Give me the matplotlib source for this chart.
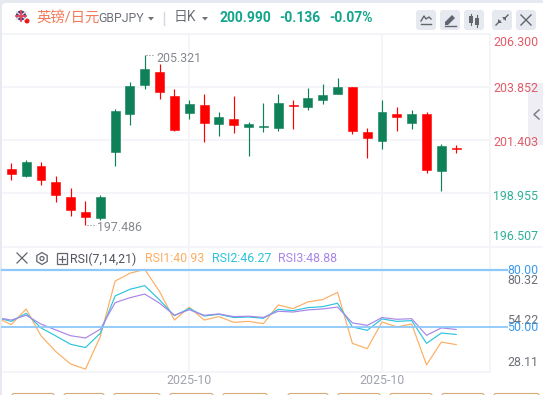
#
# GBPJPY daily candles with an RSI(7,14,21) panel, platform style chart
#

import matplotlib
matplotlib.use('Agg')
import matplotlib.pyplot as plt
from matplotlib.patches import FancyBboxPatch, Circle, Rectangle, Polygon, RegularPolygon

W, H = 543, 395

plt.rcParams['font.family'] = ['Roboto', 'Noto Sans CJK SC', 'DejaVu Sans']

opens = [200.08, 199.76, 200.22, 199.48, 198.79, 198.09, 197.82, 200.86, 202.62, 203.96, 204.56,
	203.45, 202.66, 203.03, 202.16, 202.39, 202.02, 202.02, 201.97, 203.05, 202.94, 203.27,
	203.54, 203.87, 201.79, 201.37, 202.62, 202.20, 202.62, 199.99, 201.03]
highs = [200.36, 200.49, 200.40, 199.76, 199.20, 198.60, 198.88, 202.85, 204.10, 205.321, 204.93,
	203.77, 203.27, 203.54, 202.71, 203.45, 202.25, 203.13, 203.54, 203.27, 203.82, 204.00,
	204.28, 203.87, 201.97, 203.27, 202.94, 202.80, 202.71, 201.23, 201.19]
lows = [199.57, 199.70, 199.34, 198.55, 197.91, 197.486, 197.72, 200.22, 202.11, 203.77, 203.31,
	201.83, 202.39, 201.33, 201.60, 201.74, 200.68, 201.79, 201.83, 201.93, 202.80, 203.08,
	203.54, 201.70, 200.59, 201.00, 201.83, 201.93, 199.89, 199.06, 200.82]
closes = [199.85, 200.40, 199.57, 198.88, 198.19, 197.86, 198.79, 202.76, 203.91, 204.70, 203.63,
	201.88, 203.08, 202.20, 202.48, 202.11, 202.16, 202.06, 203.13, 203.01, 203.36, 203.50,
	203.87, 201.83, 201.51, 202.71, 202.48, 202.62, 200.03, 201.14, 200.99]

# first RSI value belongs to the candle just left of the visible window
rsi1 = [55.1, 51.4, 59.6, 45.6, 37.3, 30.8, 28.11, 45.1, 74.2, 78.3, 80.32, 68.7, 53.8, 60.5, 53.8, 55.6,
	52.6, 53.1, 51.9, 61.7, 59.8, 63.3, 64.5, 68.3, 41.6, 38.8, 52.8, 50.2, 51.7, 30.3, 42.3, 40.93]
rsi2 = [55.1, 53.1, 57.3, 49.7, 45.5, 41.1, 39.4, 46.9, 66.4, 69.9, 71.8, 64.3, 56.1, 59.9, 55.9, 56.8,
	55.1, 55.4, 54.7, 59.4, 58.7, 60.3, 60.8, 62.6, 50.2, 48.4, 54.4, 53.1, 53.5, 41.6, 47.0, 46.27]
rsi3 = [55.1, 53.8, 56.3, 51.7, 48.6, 45.6, 44.4, 49.0, 62.9, 65.5, 67.4, 62.6, 56.3, 59.2, 56.3, 57.0,
	55.6, 55.8, 55.2, 58.4, 58.0, 59.1, 59.6, 60.6, 52.3, 51.0, 55.1, 54.2, 54.5, 45.8, 49.7, 48.88]

price_ticks = [203.852, 201.403, 198.955]
price_labels = ["206.300", "203.852", "201.403", "198.955", "196.507"]
rsi_labels = ["80.32", "54.22", "28.11"]
date_ticks = [12, 25]
date_labels = ["2025-10", "2025-10"]

RED = "#ff0000"
GREEN = "#0f8158"
TEAL = "#12a58c"
GRID = "#f3f4f8"
GREY = "#85888f"
ORANGE = "#fcae64"
CYAN = "#2cc4dc"
PURPLE = "#a886e8"
BLUE = "#8cc8f8"
BTN = "#e7e9f0"
ICON = "#62656e"


def px_axes(fig, left, top, right, bottom):
	return fig.add_axes([left / W, 1 - bottom / H, (right - left) / W, (bottom - top) / H])


def label(ui, x, y, s, color, size=8.9, ha="left", weight="normal"):
	ui.text(x, y, s, color=color, fontsize=size, ha=ha, va="center", fontweight=weight)


def draw_chrome(ui):
	"""White card, separators and the toolbar buttons, in pixel coordinates"""
	ui.add_patch(FancyBboxPatch((2, 3), W, H, boxstyle="round,pad=0,rounding_size=3", fc="white", ec="none"))
	ui.plot([3, 490], [34, 34], color=GRID, lw=1.4)
	ui.plot([3, 543], [247, 247], color=GRID, lw=1.2)
	ui.plot([3, 490], [372, 372], color=GRID, lw=1.2)
	ui.plot([490, 490], [34, 372], color=GRID, lw=1.2)

	# flag
	ui.add_patch(Circle((21, 15.5), 5, fc="#3a3f78", ec="none"))
	ui.plot([16.5, 25.5], [12, 19], color="#f2d4d8", lw=1)
	ui.plot([16.5, 25.5], [19, 12], color="#f2d4d8", lw=1)
	ui.plot([21, 21], [10.5, 20.5], color="#e8455a", lw=1.3)
	ui.plot([16, 26], [15.5, 15.5], color="#e8455a", lw=1.3)
	ui.add_patch(Circle((27, 21), 2.5, fc="#f01818", ec="none"))

	label(ui, 36, 17.5, "英镑/日元", "#f47a58", size=10.4)
	label(ui, 98, 18.5, "GBPJPY", "#6c7078", size=8.8)
	ui.add_patch(Polygon([(148, 17), (154, 17), (151, 20.5)], fc="#6c7078", ec="none"))
	ui.plot([164, 164], [12, 25], color="#d5d8e0", lw=1)
	label(ui, 174, 17.5, "日K", "#6c7078", size=10)
	ui.add_patch(Polygon([(202, 17), (208, 17), (205, 20.5)], fc="#6c7078", ec="none"))
	label(ui, 219, 17.5, "200.990", TEAL, size=10, weight="bold")
	label(ui, 279, 17.5, "-0.136", TEAL, size=10, weight="bold")
	label(ui, 329, 17.5, "-0.07%", TEAL, size=10, weight="bold")

	for x in [416, 440, 464, 492, 516]:
		ui.add_patch(FancyBboxPatch((x, 10), 20, 20, boxstyle="round,pad=0,rounding_size=3", fc=BTN, ec="none"))
	# line tool
	ui.plot([421, 424, 426, 429, 431], [21, 16, 19, 17, 19], color=ICON, lw=1)
	ui.plot([421, 431], [24, 24], color=ICON, lw=1)
	# pencil
	ui.add_patch(Polygon([(445, 22), (452, 15), (455, 18), (448, 25), (445, 25)], fc=ICON, ec="none"))
	ui.plot([445, 456], [25.5, 25.5], color=ICON, lw=1)
	# candles
	ui.add_patch(Rectangle((469, 16), 4, 7, fc=ICON, ec="none"))
	ui.add_patch(Rectangle((475, 18), 4, 7, fc=ICON, ec="none"))
	ui.plot([471, 471], [14, 25], color=ICON, lw=0.8)
	ui.plot([477, 477], [15, 27], color=ICON, lw=0.8)
	# shrink
	ui.plot([496, 500], [25, 21], color=ICON, lw=1)
	ui.plot([504, 508], [19, 15], color=ICON, lw=1)
	ui.add_patch(Polygon([(498, 19), (502, 23), (498, 23)], fc=ICON, ec="none"))
	ui.add_patch(Polygon([(502, 17), (506, 21), (506, 17)], fc=ICON, ec="none"))
	# close
	ui.plot([521, 531], [15, 25], color=ICON, lw=1)
	ui.plot([521, 531], [25, 15], color=ICON, lw=1)

	# collapse tab on the right
	ui.add_patch(Rectangle((528, 83), 15, 62, fc="#eeeef4", ec="none"))
	ui.plot([539, 534, 539], [110, 114.5, 119], color="#7c7f88", lw=1.1)

	# tabs cut off by the bottom edge
	for x0, x1 in [(12, 54), (64, 104), (114, 160), (170, 213), (223, 267),
			(288, 328), (338, 380), (390, 432), (442, 484), (494, 539)]:
		ui.add_patch(FancyBboxPatch((x0, 393.5), x1 - x0, 10, boxstyle="round,pad=0,rounding_size=2",
			fc="white", ec="#d8aa78", lw=0.8))

	# RSI header
	ui.plot([17, 27], [253, 263], color=ICON, lw=0.9)
	ui.plot([17, 27], [263, 253], color=ICON, lw=0.9)
	ui.add_patch(RegularPolygon((42, 258.5), 6, radius=6, fc="none", ec=ICON, lw=0.9))
	ui.add_patch(Circle((42, 258.5), 2, fc="none", ec=ICON, lw=0.9))
	ui.add_patch(Rectangle((56.5, 253), 10.5, 11, fc="none", ec=ICON, lw=0.9))
	ui.plot([59, 64.5], [258.5, 258.5], color=ICON, lw=0.9)
	ui.plot([61.7, 61.7], [255.5, 261.5], color=ICON, lw=0.9)
	label(ui, 70, 259, "RSI(7,14,21)", "#50545c")
	label(ui, 145, 259, "RSI1:40.93", ORANGE)
	label(ui, 212, 259, "RSI2:46.27", CYAN)
	label(ui, 278, 259, "RSI3:48.88", PURPLE)

	# value axes
	for y, s, col in zip([42, 88, 143, 196, 237], price_labels,
			["#e25b68", "#e25b68", "#e25b68", "#2fb09a", "#2fb09a"]):
		label(ui, 538, y, s, col, ha="right")
	for y, s in zip([280, 320.5, 362.5], rsi_labels):
		label(ui, 538, y, s, "#6c7078", ha="right")
	label(ui, 538, 270, "80.00", "#3a9bf0", ha="right")
	label(ui, 538, 327.5, "50.00", "#3a9bf0", ha="right")


def draw_candles(ax):
	xs = list(range(len(opens)))
	cols = [GREEN if c >= o else RED for o, c in zip(opens, closes)]
	ax.vlines(xs, lows, highs, colors=cols, lw=0.85, zorder=2)
	bottoms = [min(o, c) for o, c in zip(opens, closes)]
	heights = [abs(o - c) for o, c in zip(opens, closes)]
	ax.bar(xs, heights, bottom=bottoms, width=0.6, color=cols, edgecolor=cols, lw=0.4, zorder=3)

	ax.set_xlim(-0.627, 32.28)
	ax.set_ylim(196.476, 206.314)
	ax.set_yticks(price_ticks)
	ax.set_xticks(date_ticks)
	ax.grid(color=GRID, lw=1.2, zorder=0)
	ax.tick_params(length=0, labelleft=False, labelbottom=False)

	hi = highs.index(max(highs))
	lo = lows.index(min(lows))
	ax.annotate("{:.3f}".format(highs[hi]), (hi, highs[hi]), xytext=(8.5, -2), textcoords="offset points",
		color=GREY, fontsize=8.9, va="center")
	ax.annotate("{:.3f}".format(lows[lo]), (lo, lows[lo]), xytext=(8.5, -1.5), textcoords="offset points",
		color=GREY, fontsize=8.9, va="center")
	ax.plot([hi + 0.1, hi + 0.6], [highs[hi], highs[hi]], ":", color=GREY, lw=0.8)
	ax.plot([lo + 0.1, lo + 0.7], [lows[lo], lows[lo]], ":", color=GREY, lw=0.8)


def draw_rsi(ax):
	xs = list(range(-1, len(rsi1) - 1))
	ax.plot(xs, rsi1, color=ORANGE, lw=0.85)
	ax.plot(xs, rsi2, color=CYAN, lw=0.85)
	ax.plot(xs, rsi3, color=PURPLE, lw=0.85)
	ax.axhline(80, xmax=1.035, color=BLUE, lw=1.6, clip_on=False)
	ax.axhline(50, xmax=1.035, color=BLUE, lw=1.3, clip_on=False)

	ax.set_xlim(-0.627, 32.28)
	ax.set_ylim(26.6, 92.04)
	ax.set_xticks(date_ticks)
	ax.set_xticklabels(date_labels, color="#a0a3ad", fontsize=8.9)
	ax.set_yticks([])
	ax.grid(axis="x", color=GRID, lw=1.2, zorder=0)
	ax.tick_params(length=0, pad=1.8)


def main():
	fig = plt.figure(figsize=(W / 100, H / 100), dpi=100, facecolor="#e6e9f0")

	ui = fig.add_axes([0, 0, 1, 1])
	ui.set_xlim(0, W)
	ui.set_ylim(H, 0)
	ui.axis("off")
	draw_chrome(ui)

	ax = px_axes(fig, 2, 34, 490, 247)
	ax.patch.set_alpha(0)
	for s in ax.spines.values():
		s.set_visible(False)
	draw_candles(ax)

	rsi = px_axes(fig, 2, 247, 490, 372)
	rsi.patch.set_alpha(0)
	for s in rsi.spines.values():
		s.set_visible(False)
	draw_rsi(rsi)

	fig.savefig("out.png", dpi=100, facecolor=fig.get_facecolor())
	plt.close()


if __name__ == "__main__":
	main()
